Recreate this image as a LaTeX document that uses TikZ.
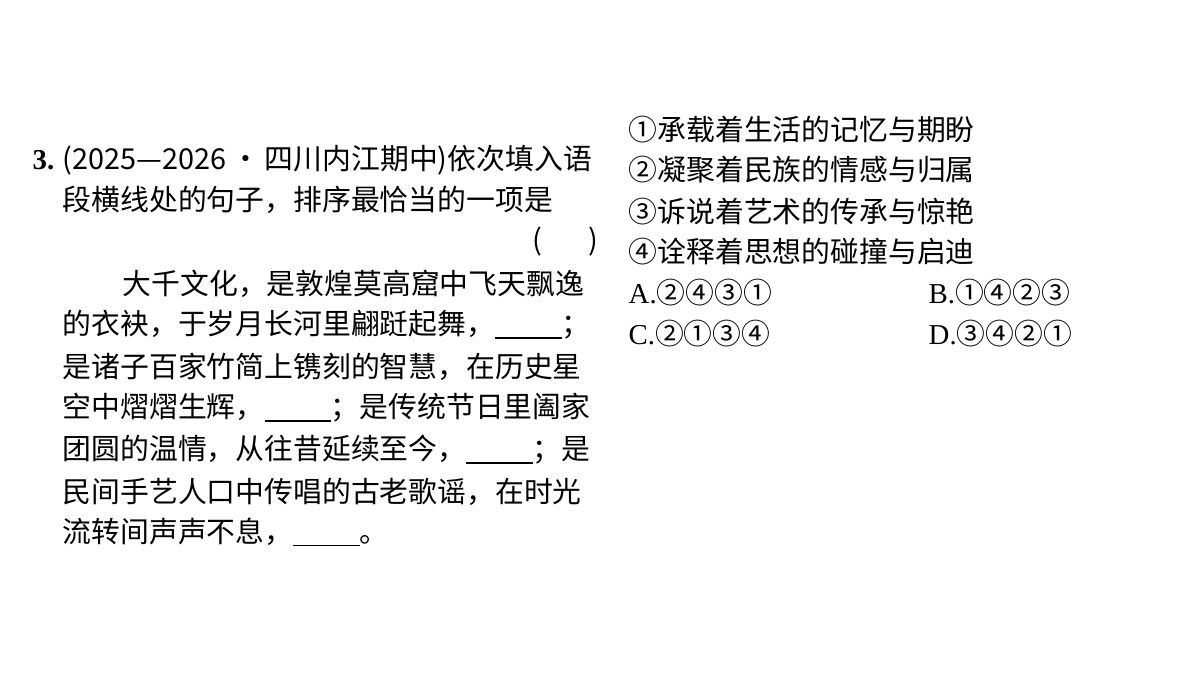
\documentclass[tikz,border=0pt]{standalone}
\usepackage{fontspec}
\newfontfamily\cjk{Noto Sans CJK SC}[BoldFont={Noto Sans CJK SC Bold}]
\setmainfont{Liberation Serif}
\begin{document}
\begin{tikzpicture}[x=0.01cm,y=-0.01cm,
  ln/.style={anchor=west,inner sep=0pt,font=\fontsize{8.2pt}{10pt}\selectfont\cjk}]
\useasboundingbox (0,0) rectangle (1200,675);
\newcommand{\blank}{\rule[-0.15em]{2.3em}{0.5pt}}
\node[ln] (l1) at (32,160) {\textrm{\textbf{3.}} (2025—2026\,·\,四川内江期中)依次填入语};
\node[ln] (l2) at (62,200) {段横线处的句子，排序最恰当的一项是};
\node[ln] (l3) at (532,242) {(\hspace{1.6em})};
\node[ln] (l4) at (122,284) {大千文化，是敦煌莫高窟中飞天飘逸};
\node[ln] (l5) at (62,325) {的衣袂，于岁月长河里翩跹起舞，\blank；};
\node[ln] (l6) at (62,367) {是诸子百家竹简上镌刻的智慧，在历史星};
\node[ln] (l7) at (62,408) {空中熠熠生辉，\blank；是传统节日里阖家};
\node[ln] (l8) at (62,450) {团圆的温情，从往昔延续至今，\blank；是};
\node[ln] (l9) at (62,492) {民间手艺人口中传唱的古老歌谣，在时光};
\node[ln] (l10) at (62,532) {流转间声声不息，\blank。};
\node[ln] (r1) at (628,130) {①承载着生活的记忆与期盼};
\node[ln] (r2) at (628,170) {②凝聚着民族的情感与归属};
\node[ln] (r3) at (628,211) {③诉说着艺术的传承与惊艳};
\node[ln] (r4) at (628,252) {④诠释着思想的碰撞与启迪};
\node[ln] (a) at (628,293) {\textrm{A.}②④③①};
\node[ln] (b) at (928,293) {\textrm{B.}①④②③};
\node[ln] (c) at (628,334) {\textrm{C.}②①③④};
\node[ln] (d) at (928,334) {\textrm{D.}③④②①};
\end{tikzpicture}
\end{document}
